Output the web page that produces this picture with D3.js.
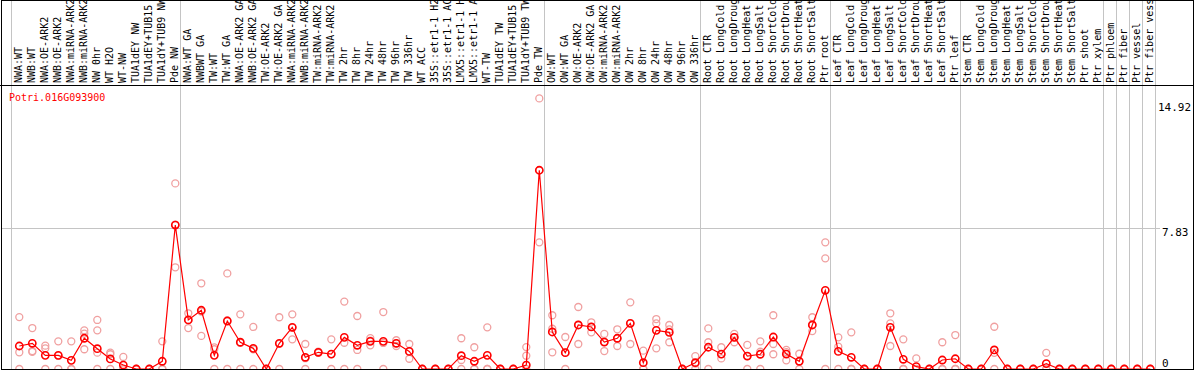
<!DOCTYPE html>
<html>
<head>
<meta charset="utf-8">
<script src="https://cdn.jsdelivr.net/npm/d3@7"></script>
<style>
  body { margin: 0; background: #fff; }
  svg { display: block; }
  text { font-family: "DejaVu Sans Mono", monospace; }
</style>
</head>
<body>
<div id="chart"></div>
<script>
const geneName = "Potri.016G093900";

const categories = [
  "NWA:WT", "NWB:WT", "NWA:OE-ARK2", "NWB:OE-ARK2", "NWA:miRNA-ARK2", "NWB:miRNA-ARK2",
  "NW 0hr", "WT H2O", "WT-NW", "TUA1dEY NW", "TUA1dEY+TUB15 NW", "TUA1dY+TUB9 NW", "Pde NW",
  "NWA:WT GA", "NWBWT GA", "TW:WT", "TW:WT GA", "NWA:OE-ARK2 GA", "NWB:OE-ARK2 GA",
  "TW:OE-ARK2", "TW:OE-ARK2 GA", "NWA:miRNA-ARK2 GA", "NWB:miRNA-ARK2 GA", "TW:miRNA-ARK2",
  "TW:miRNA-ARK2 GA", "TW 2hr", "TW 8hr", "TW 24hr", "TW 48hr", "TW 96hr", "TW 336hr",
  "WT ACC", "35S::etr1-1 H2O", "35S::etr1-1 ACC", "LMX5::etr1-1 H2O", "LMX5::etr1-1 ACC",
  "WT-TW", "TUA1dEY TW", "TUA1dEY+TUB15 TW", "TUA1dY+TUB9 TW", "Pde TW",
  "OW:WT", "OW:WT GA", "OW:OE-ARK2", "OW:OE-ARK2 GA", "OW:miRNA-ARK2", "OW:miRNA-ARK2 GA",
  "OW 2hr", "OW 8hr", "OW 24hr", "OW 48hr", "OW 96hr", "OW 336hr",
  "Root CTR", "Root LongCold", "Root LongDrought", "Root LongHeat", "Root LongSalt",
  "Root ShortCold", "Root ShortDrought", "Root ShortHeat", "Root ShortSalt", "Ptr root",
  "Leaf CTR", "Leaf LongCold", "Leaf LongDrought", "Leaf LongHeat", "Leaf LongSalt",
  "Leaf ShortCold", "Leaf ShortDrought", "Leaf ShortHeat", "Leaf ShortSalt", "Ptr leaf",
  "Stem CTR", "Stem LongCold", "Stem LongDrought", "Stem LongHeat", "Stem LongSalt",
  "Stem ShortCold", "Stem ShortDrought", "Stem ShortHeat", "Stem ShortSalt", "Ptr shoot",
  "Ptr xylem", "Ptr phloem", "Ptr fiber", "Ptr vessel", "Ptr fiber vessel"
];

// number of samples in each experiment block (grey separators between them)
const groupSizes = [13, 28, 12, 10, 10, 11, 1, 1, 1, 1];

const means = [
  1.28, 1.43, 0.76, 0.76, 0.48, 1.71, 1.13, 0.56, 0.22, 0, 0, 0.43, 8.01,
  2.73, 3.27, 0.76, 2.67, 1.49, 1.15, 0, 1.43, 2.32, 0.65, 0.93, 0.83, 1.76, 1.32,
  1.54, 1.54, 1.43, 0.98, 0, 0, 0, 0.74, 0.43, 0.76, 0, 0, 0.22, 11.06,
  2.06, 0.91, 2.45, 2.34, 1.50, 1.71, 2.54, 0.35, 2.15, 2.04, 0, 0.35,
  1.21, 0.83, 1.76, 0.72, 0.82, 1.78, 0.83, 0.43, 2.45, 4.38,
  0.98, 0.65, 0, 0, 2.32, 0.54, 0.13, 0, 0.5, 0.57,
  0, 0, 1.06, 0, 0, 0, 0.3, 0, 0, 0, 0,
  0, 0, 0, 0
];

const replicates = [
  [2.89, 0.93, 0], [2.28, 1.0, 0.95], [1.3, 1.15, 0], [1.54, 0.74, 0], [1.54, 0, 0],
  [2.15, 1.97, 1.1], [2.73, 2.15, 0.91, 0], [0.91, 0.82, 0], [0.67, 0, 0], [0, 0, 0],
  [0, 0, 0], [1.54, 0, 0], [10.33, 8.04, 5.66],
  [3.1, 2.73, 2.28], [4.77, 3.2, 1.84], [1.2, 1.1, 0], [5.32, 2.7, 0], [3.04, 1.45, 0],
  [2.34, 1.1, 0], [0, 0, 0], [2.88, 1.4, 0], [3.04, 2.3, 1.65], [1.39, 0.6, 0],
  [0.97, 0.9, 0.93], [1.65, 0.83, 0], [3.75, 1.46, 0], [2.95, 1.06, 0], [1.72, 1.32, 1.58],
  [3.17, 1.45, 0], [1.6, 1.28, 1.43], [1.39, 0.98, 0.57], [0, 0, 0], [0, 0, 0], [0, 0, 0],
  [1.71, 0.5, 0], [1.21, 0, 0], [2.32, 0, 0], [0, 0, 0], [0, 0, 0], [1.22, 0.74, 0],
  [15.06, 11.06, 7.05],
  [2.99, 2.24, 0.93], [1.78, 0.91, 0], [3.45, 2.45, 1.39], [2.6, 2.34, 2.04],
  [1.95, 1.5, 1.0], [2.21, 1.71, 1.28], [3.71, 2.54, 1.39], [1.02, 0, 0],
  [2.78, 2.54, 1.15], [2.45, 2.2, 1.49], [0, 0, 0], [0.72, 0.3, 0],
  [2.26, 1.49, 0], [1.21, 0.83, 0.59], [1.95, 1.76, 1.49], [1.34, 0.72, 0],
  [1.54, 0.96, 0], [2.99, 1.39, 0.82], [1.06, 0.94, 0.48], [0.85, 0.43, 0],
  [2.88, 2.45, 2.11], [7.05, 6.16, 0],
  [1.76, 1.24, 0], [2.04, 0, 0], [0, 0, 0], [0, 0, 0], [3.1, 2.54, 1.28],
  [1.65, 0, 0], [0.59, 0, 0], [0, 0, 0], [1.49, 0, 0], [1.89, 0, 0],
  [0, 0, 0], [0, 0, 0], [2.35, 0.9, 0], [0, 0, 0], [0, 0, 0], [0, 0, 0],
  [0.9, 0, 0], [0, 0, 0], [0, 0, 0], [0, 0, 0], [0, 0, 0],
  [0, 0, 0], [0, 0, 0], [0, 0, 0], [0, 0, 0]
];

const yTicks = [0, 7.83, 14.92];

const w = 1194, h = 370;
const headerH = 85;
const plotLeft = 11, colW = 13;
const plotRight = plotLeft + colW * categories.length;

const svg = d3.select("#chart").append("svg")
  .attr("width", w)
  .attr("height", h);

const xScale = d3.scaleBand()
  .domain(categories)
  .range([plotLeft, plotRight])
  .padding(0);
const px = c => xScale(c) + 8.3;

const yScale = d3.scaleLinear()
  .domain([0, 14.92])
  .range([369, 100.9]);

// separators between sample blocks
const bounds = [0].concat(Array.from(d3.cumsum(groupSizes)));
svg.append("g").selectAll("line")
  .data(bounds)
  .enter().append("line")
  .attr("x1", d => d < categories.length ? xScale(categories[d]) + 0.5 : plotRight + 0.5)
  .attr("x2", d => d < categories.length ? xScale(categories[d]) + 0.5 : plotRight + 0.5)
  .attr("y1", 0)
  .attr("y2", h)
  .attr("stroke", "#c4c4c4")
  .attr("stroke-width", 1);

// horizontal grid at the middle tick
svg.append("line")
  .attr("x1", 1).attr("x2", 1160)
  .attr("y1", Math.round(yScale(7.83)) + 0.5)
  .attr("y2", Math.round(yScale(7.83)) + 0.5)
  .attr("stroke", "#c4c4c4");

// header labels
svg.append("g").selectAll("text")
  .data(categories)
  .enter().append("text")
  .attr("transform", d => "translate(" + (px(d) + 3) + "," + 83 + ") rotate(-90)")
  .attr("font-size", "10px")
  .attr("fill", "#000")
  .text(d => d);

svg.append("line")
  .attr("x1", 0).attr("x2", w)
  .attr("y1", headerH + 0.5).attr("y2", headerH + 0.5)
  .attr("stroke", "#000");

svg.append("text")
  .attr("x", 9)
  .attr("y", 101)
  .attr("font-size", "10px")
  .attr("fill", "red")
  .text(geneName);

// y labels on the right
svg.append("g").selectAll("text")
  .data(yTicks)
  .enter().append("text")
  .attr("x", d => Math.min(1162, 1191 - String(d).length * 6.6))
  .attr("y", d => Math.max(110.5, Math.min(yScale(d) + 7.5, 366.5)))
  .attr("font-size", "11px")
  .attr("fill", "#000")
  .text(d => d);

// replicate points
const repPoints = [];
replicates.forEach((r, i) => r.forEach(v => repPoints.push({c: categories[i], v: v})));
svg.append("g").selectAll("circle")
  .data(repPoints)
  .enter().append("circle")
  .attr("cx", d => px(d.c))
  .attr("cy", d => yScale(d.v))
  .attr("r", 3.5)
  .attr("fill", "none")
  .attr("stroke", "#f0a0a0")
  .attr("stroke-width", 1.3);

// mean line
const line = d3.line()
  .x((d, i) => px(categories[i]))
  .y(d => yScale(d));
svg.append("path")
  .datum(means)
  .attr("d", line)
  .attr("fill", "none")
  .attr("stroke", "red")
  .attr("stroke-width", 1.2);

svg.append("g").selectAll("circle")
  .data(means)
  .enter().append("circle")
  .attr("cx", (d, i) => px(categories[i]))
  .attr("cy", d => yScale(d))
  .attr("r", 3.6)
  .attr("fill", "none")
  .attr("stroke", "red")
  .attr("stroke-width", 1.6);

// outer frame
svg.append("rect")
  .attr("x", 1.5).attr("y", 0.5)
  .attr("width", 1192).attr("height", 369)
  .attr("fill", "none")
  .attr("stroke", "#000");
</script>
</body>
</html>
